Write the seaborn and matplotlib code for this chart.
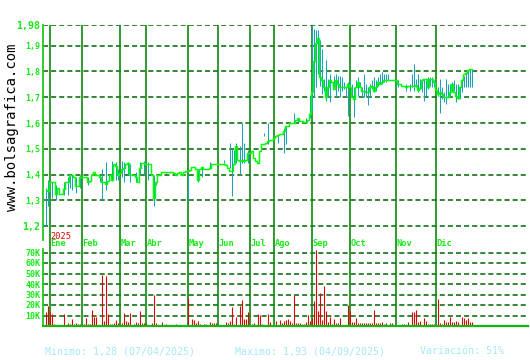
import matplotlib
matplotlib.use('Agg')
import matplotlib.pyplot as plt
import numpy as np
import pandas as pd
import seaborn as sns

# ---------------- data ----------------
close = [
    1.34, 1.337, 1.37, 1.37, 1.37, 1.325, 1.35, 1.325, 1.325, 1.343,
    1.37, 1.37, 1.40, 1.40, 1.39, 1.356, 1.356, 1.39, 1.39, 1.39,
    1.39, 1.37, 1.376, 1.40, 1.41, 1.40, 1.40, 1.39, 1.37, 1.37,
    1.363, 1.376, 1.40, 1.38, 1.44, 1.435, 1.40, 1.408, 1.42, 1.427,
    1.44, 1.447, 1.40, 1.40, 1.40, 1.39, 1.37, 1.427, 1.447, 1.447,
    1.44, 1.44, 1.44, 1.40, 1.31, 1.37, 1.40, 1.40, 1.41, 1.41,
    1.41, 1.41, 1.41, 1.41, 1.405, 1.40, 1.405, 1.41, 1.40, 1.41,
    1.415, 1.415, 1.418, 1.428, 1.428, 1.42, 1.38, 1.42, 1.428, 1.422,
    1.42, 1.42, 1.424, 1.44, 1.44, 1.44, 1.44, 1.44, 1.44, 1.44,
    1.437, 1.426, 1.413, 1.413, 1.44, 1.51, 1.458, 1.452, 1.458, 1.452,
    1.458, 1.484, 1.484, 1.49, 1.465, 1.452, 1.445, 1.49, 1.517, 1.517,
    1.523, 1.53, 1.536, 1.536, 1.543, 1.55, 1.553, 1.556, 1.556, 1.57,
    1.59, 1.59, 1.60, 1.60, 1.60, 1.61, 1.618, 1.608, 1.608, 1.605,
    1.605, 1.61, 1.635, 1.72, 1.84, 1.91, 1.93, 1.78, 1.765, 1.74,
    1.70, 1.739, 1.765, 1.758, 1.732, 1.765, 1.752, 1.739, 1.739, 1.739,
    1.739, 1.752, 1.739, 1.70, 1.694, 1.739, 1.758, 1.739, 1.726, 1.726,
    1.719, 1.719, 1.739, 1.745, 1.726, 1.739, 1.758, 1.752, 1.758, 1.768,
    1.768, 1.768, 1.768, 1.768, 1.768, 1.768, 1.752, 1.752, 1.745, 1.745,
    1.739, 1.745, 1.745, 1.745, 1.745, 1.749, 1.73, 1.735, 1.765, 1.771,
    1.771, 1.739, 1.771, 1.771, 1.758, 1.73, 1.713, 1.719, 1.713, 1.70,
    1.70, 1.70, 1.719, 1.752, 1.719, 1.706, 1.697, 1.739, 1.765, 1.791,
    1.795, 1.804, 1.81, 1.81,
]

volume_k = [
    13.3, 19, 13, 11.4, 2, 1, 1, 1, 1, 11,
    1, 3, 2, 6.7, 2, 3, 2, 2, 2, 2,
    7.6, 2, 2, 15, 9, 9, 1, 1, 48.6, 4.8,
    47.6, 11, 2, 2, 3, 5.7, 3, 2, 3, 12.4,
    4.8, 3.8, 12.4, 1, 2, 3.8, 3, 14.3, 3, 3,
    3, 1, 1, 3, 29.5, 3, 1, 1, 3.8, 1,
    2, 1, 1, 1, 1, 2, 1, 1, 1, 1,
    1, 27, 0.5, 6.7, 5.7, 3, 4.8, 2, 1, 2,
    2, 1, 3.8, 3, 3, 3, 1, 1, 1, 1,
    3.8, 3, 4.8, 18, 2, 8.6, 1, 19, 24.8, 6.7,
    6.7, 13.3, 1, 2, 3, 1, 11.4, 10.5, 2, 1,
    1, 11.4, 3.8, 1, 1, 4.8, 1, 5.7, 3, 4.8,
    5.7, 6.7, 4.8, 3, 29.5, 3, 3, 3, 2, 2,
    3.8, 10.5, 4.8, 7.6, 23.8, 72, 14.3, 31.4, 5.7, 38,
    14.3, 3.8, 8.6, 2, 6.7, 3, 3, 7.6, 1, 1,
    1, 20, 14.3, 3.8, 3.8, 7.6, 3, 3, 3, 3,
    3, 3, 3, 3, 15.2, 3, 3, 3, 3.8, 2,
    3, 1, 3, 3, 1, 1, 1, 1, 2, 2,
    1, 3.8, 1, 13.3, 13.3, 15.2, 3.8, 4.8, 1, 7.6,
    4.8, 2, 2, 2, 2, 2, 25.7, 3, 2, 5.7,
    3.8, 3.8, 8.6, 3.8, 3.8, 4.8, 3.8, 1, 8.6, 7.6,
    5.7, 7.6, 3.8, 3.8,
]

range_idx = [0, 1, 3, 5, 9, 11, 12, 13, 15, 17, 21, 27, 28, 30, 33, 35, 36, 38, 39,
             41, 42, 45, 47, 49, 51, 54, 55, 60, 62, 71, 76, 78, 82,
             89, 92, 93, 94, 95, 97, 98, 99, 101, 109, 111, 116, 119, 120, 124,
             126, 130, 132,
             133, 134, 135, 136, 137, 138, 139, 140, 141, 142, 144, 145, 146, 147,
             148, 149, 150, 151, 152, 153, 154, 155, 156, 157, 158, 159, 160, 161,
             162, 163, 164, 165, 166, 167, 168, 169, 170, 171, 175, 176, 180, 182,
             183, 184, 185, 186, 187, 188, 189, 190, 191, 192, 193, 194, 196, 197,
             198, 199, 200, 201, 202, 203, 204, 205, 206, 207, 208, 209, 210, 211,
             212, 213]
range_low = [1.20, 1.28, 1.31, 1.30, 1.32, 1.32, 1.35, 1.34, 1.33, 1.35, 1.36, 1.37,
             1.30, 1.34, 1.376, 1.38, 1.38, 1.39, 1.37, 1.40, 1.37, 1.37, 1.40,
             1.40, 1.38, 1.28, 1.36, 1.405, 1.405, 1.30, 1.37, 1.39, 1.42,
             1.445, 1.426, 1.316, 1.445, 1.445, 1.40, 1.445, 1.445, 1.445, 1.55,
             1.52, 1.523, 1.484, 1.52, 1.60, 1.605, 1.605, 1.62,
             1.65, 1.70, 1.74, 1.79, 1.745, 1.713, 1.726, 1.687, 1.70, 1.68,
             1.739, 1.70, 1.726, 1.70, 1.726, 1.732, 1.70, 1.629, 1.739, 1.70,
             1.622, 1.739, 1.706, 1.739, 1.70, 1.70, 1.70, 1.668, 1.70, 1.732,
             1.719, 1.726, 1.745, 1.752, 1.752, 1.758, 1.758, 1.765, 1.739,
             1.739, 1.726, 1.726, 1.739, 1.726, 1.739, 1.719, 1.732, 1.719,
             1.687, 1.706, 1.732, 1.745, 1.739, 1.739, 1.706, 1.638, 1.694,
             1.68, 1.674, 1.70, 1.70, 1.719, 1.726, 1.68, 1.694, 1.694, 1.719,
             1.739, 1.739, 1.739, 1.739, 1.739]
range_high = [1.35, 1.38, 1.37, 1.36, 1.37, 1.39, 1.40, 1.40, 1.39, 1.40, 1.39, 1.40,
              1.42, 1.45, 1.453, 1.45, 1.42, 1.453, 1.45, 1.45, 1.44, 1.41, 1.45,
              1.453, 1.45, 1.40, 1.37, 1.41, 1.41, 1.40, 1.42, 1.43, 1.45,
              1.458, 1.523, 1.50, 1.497, 1.523, 1.51, 1.60, 1.523, 1.497, 1.563,
              1.60, 1.55, 1.58, 1.59, 1.64, 1.62, 1.62, 1.71,
              1.98, 1.966, 1.96, 1.96, 1.921, 1.888, 1.771, 1.843, 1.771, 1.791,
              1.784, 1.791, 1.784, 1.784, 1.778, 1.758, 1.739, 1.758, 1.765, 1.752,
              1.739, 1.765, 1.778, 1.758, 1.739, 1.791, 1.752, 1.739, 1.752, 1.765,
              1.778, 1.765, 1.778, 1.791, 1.797, 1.791, 1.791, 1.791, 1.765,
              1.765, 1.752, 1.752, 1.791, 1.83, 1.771, 1.791, 1.771, 1.771,
              1.771, 1.765, 1.778, 1.778, 1.778, 1.765, 1.739, 1.771, 1.739,
              1.719, 1.771, 1.752, 1.752, 1.758, 1.765, 1.752, 1.752, 1.739, 1.771,
              1.784, 1.797, 1.804, 1.81, 1.81]

months = ['Ene', 'Feb', 'Mar', 'Abr', 'May', 'Jun', 'Jul', 'Ago', 'Sep', 'Oct', 'Nov', 'Dic']
month_pos = [2.15, 18.15, 37.15, 50.15, 71.15, 86.15, 102.15, 114.15, 133.15, 152.15, 175.15, 195.15]
year_label = '2025'

price_ticks = [1.2, 1.3, 1.4, 1.5, 1.6, 1.7, 1.8, 1.9, 1.98]
price_labels = ['1,2', '1,3', '1,4', '1,5', '1,6', '1,7', '1,8', '1,9', '1,98']
vol_ticks = [10, 20, 30, 40, 50, 60, 70]
vol_labels = ['10K', '20K', '30K', '40K', '50K', '60K', '70K']

footer_min = 'Minimo: 1,28 (07/04/2025)'
footer_max = 'Maximo: 1,93 (04/09/2025)'
footer_var = 'Variación: 51%'
site = 'www.bolsagrafica.com'

# ---------------- style ----------------
sns.set_theme(style='white')
plt.rcParams['font.family'] = ['DejaVu Sans Mono', 'DejaVu Sans']

GRID = '#006400'
MONTH = '#0a8a0a'
SPINE = '#22c822'
LABEL = '#18e818'
CLOSE = '#00ff00'
RANGE = '#1aa2b6'
VOL = '#e00000'
FOOT = '#a6eaf2'

W, H = 530, 360
fig = plt.figure(figsize=(W / 100, H / 100), dpi=100)
fig.patch.set_facecolor('white')


def rect(l, t, r, b):
    return [l / W, 1 - b / H, (r - l) / W, (b - t) / H]


axp = fig.add_axes(rect(43, 25, 528, 249))
axv = fig.add_axes(rect(43, 249, 528, 326))

n = len(close)
df = pd.DataFrame({'i': np.arange(n), 'close': close, 'vol': volume_k})
XL = (-1.25, 241.25)   # 2 px per trading day, bars on pixel centres

# ---------------- price panel ----------------
axp.set_xlim(*XL)
axp.set_ylim(1.98 - 224 / 258, 1.98)
for t in price_ticks:
    axp.axhline(t, color=GRID, lw=1.1, ls=(0, (3.3, 2.0)), zorder=1)
for p in month_pos:
    axp.axvline(p, color=MONTH, lw=1.2, zorder=1)
axp.vlines(range_idx, range_low, range_high, color=RANGE, lw=0.75, zorder=2)
sns.lineplot(data=df, x='i', y='close', ax=axp, color=CLOSE, lw=1.05,
             drawstyle='steps-mid', legend=False, zorder=3)
axp.set_xlabel('')
axp.set_ylabel('')
axp.set_xticks([])
axp.set_yticks(price_ticks)
axp.set_yticklabels(price_labels)
for lab, t in zip(axp.get_yticklabels(), price_ticks):
    lab.set_fontweight('bold')
    lab.set_color(LABEL)
    lab.set_fontsize(7.2 if t in (1.2, 1.98) else 6.0)
axp.tick_params(axis='y', length=0, pad=2)
for s in ('top', 'right', 'bottom'):
    axp.spines[s].set_visible(False)
axp.spines['left'].set_color(SPINE)
axp.spines['left'].set_linewidth(1.3)
axp.spines['left'].set_bounds(1.98 - 215 / 258, 1.98)

for name, p in zip(months, month_pos):
    axp.text(p + 0.4, 1.98 - 219 / 258, name, color=LABEL, fontsize=6.2,
             fontweight='bold', ha='left', va='center')
axp.text(month_pos[0] + 0.3, 1.98 - 211 / 258, year_label, color='#dd0000',
         fontsize=6.2, ha='left', va='center')

# ---------------- volume panel ----------------
axv.set_xlim(*XL)
axv.set_ylim(0, 77 / 10.5 * 10)
for t in vol_ticks:
    axv.axhline(t, color=GRID, lw=1.1, ls=(0, (3.3, 2.0)), zorder=1)
for p in month_pos:
    axv.axvline(p, color=MONTH, lw=1.2, zorder=1)
axv.vlines(df['i'], 0, df['vol'], color=VOL, lw=0.8, zorder=2)
axv.set_xticks([])
axv.set_yticks(vol_ticks)
axv.set_yticklabels(vol_labels)
for lab in axv.get_yticklabels():
    lab.set_fontweight('bold')
    lab.set_color(LABEL)
    lab.set_fontsize(6.0)
axv.tick_params(axis='y', length=0, pad=2)
axv.spines['top'].set_visible(False)
axv.spines['right'].set_visible(False)
axv.spines['left'].set_color(SPINE)
axv.spines['left'].set_linewidth(1.3)
axv.spines['bottom'].set_color('#10b810')
axv.spines['bottom'].set_linewidth(1.6)

# ---------------- texts ----------------
fig.text(12 / W, 1 - 127 / H, site, rotation=90, fontsize=10, color='black',
         ha='center', va='center')
fig.text(45 / W, 1 - 351 / H, footer_min, fontsize=7.2, color=FOOT, ha='left', va='center')
fig.text(235 / W, 1 - 351 / H, footer_max, fontsize=7.2, color=FOOT, ha='left', va='center')
fig.text(420 / W, 1 - 351 / H, footer_var, fontsize=7.2, color=FOOT, ha='left', va='center')

fig.savefig('out.png', dpi=100, facecolor='white')
